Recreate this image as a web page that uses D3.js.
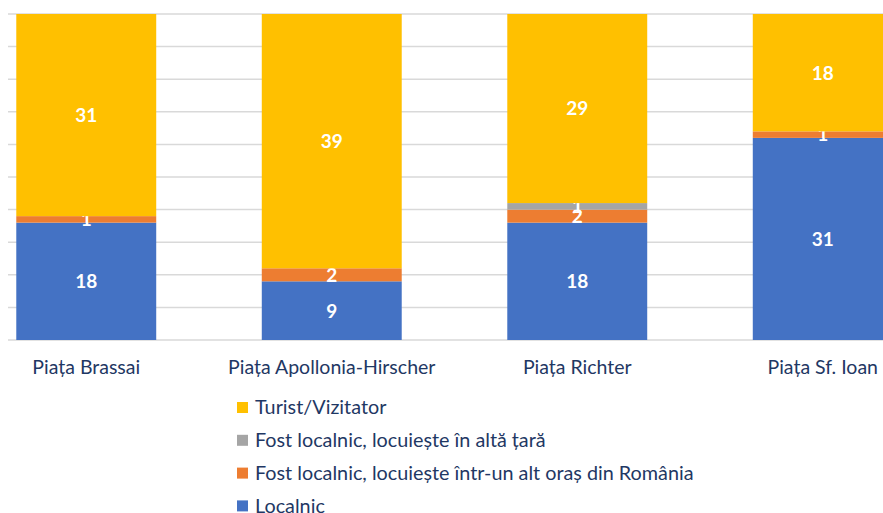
<!DOCTYPE html>
<html>
<head>
<meta charset="utf-8">
<script src="https://cdn.jsdelivr.net/npm/d3@7"></script>
<style>
  body { margin: 0; background: #fff; }
  svg { display: block; font-family: Lato, "Open Sans", sans-serif; }
</style>
</head>
<body>
<div id="chart"></div>
<script>
const categories = ["Piața Brassai", "Piața Apollonia-Hirscher", "Piața Richter", "Piața Sf. Ioan"];
const localnic = [18, 9, 18, 31];
const fostOras = [1, 2, 2, 1];
const fostTara = [0, 0, 1, 0];
const turist = [31, 39, 29, 18];
const yTicks = [0, 5, 10, 15, 20, 25, 30, 35, 40, 45, 50];

const series = [
  { key: "Localnic", values: localnic, color: "#4472C4" },
  { key: "Fost localnic, locuiește într-un alt oraș din România", values: fostOras, color: "#ED7D31" },
  { key: "Fost localnic, locuiește în altă țară", values: fostTara, color: "#A5A5A5" },
  { key: "Turist/Vizitator", values: turist, color: "#FFC000" }
];

const W = 883, H = 513;
const svg = d3.select("#chart").append("svg")
  .attr("width", W)
  .attr("height", H);

// plot area is wider than the window, so left/right are cut off like the source
const x = d3.scaleBand()
  .domain(categories)
  .range([-36.5, 945.5])
  .paddingInner(0.43)
  .paddingOuter(0.215);

const y = d3.scaleLinear()
  .domain([0, 50])
  .range([340, 14]);

// gridlines
svg.append("g")
  .selectAll("line")
  .data(yTicks)
  .join("line")
  .attr("x1", 8)
  .attr("x2", W)
  .attr("y1", d => y(d))
  .attr("y2", d => y(d))
  .attr("stroke", "#D9D9D9")
  .attr("stroke-width", 1.5);

// stack
const rows = categories.map((c, i) => {
  const r = { cat: c };
  series.forEach(s => r[s.key] = s.values[i]);
  return r;
});
const stacked = d3.stack().keys(series.map(s => s.key))(rows);

const layers = svg.append("g")
  .selectAll("g")
  .data(stacked)
  .join("g")
  .attr("fill", (d, i) => series[i].color);

layers.selectAll("rect")
  .data(d => d)
  .join("rect")
  .attr("x", d => x(d.data.cat))
  .attr("y", d => y(d[1]))
  .attr("width", x.bandwidth())
  .attr("height", d => y(d[0]) - y(d[1]));

// values
layers.selectAll("text")
  .data(d => d.filter(v => v[1] - v[0] > 0))
  .join("text")
  .attr("x", d => x(d.data.cat) + x.bandwidth() / 2)
  .attr("y", d => (y(d[0]) + y(d[1])) / 2)
  .attr("dy", "0.36em")
  .attr("text-anchor", "middle")
  .attr("fill", "#fff")
  .attr("font-weight", "bold")
  .attr("font-size", 19)
  .text(d => d[1] - d[0]);

// category axis
const xAxis = d3.axisBottom(x).tickSize(0).tickPadding(20);
const xAxisEl = svg.append("g")
  .attr("transform", "translate(0,340)")
  .call(xAxis);
xAxisEl.select(".domain").remove();
xAxisEl.selectAll("text")
  .attr("font-family", "Lato, sans-serif")
  .attr("font-size", 19.5)
  .attr("fill", "#1F3864");

// legend, top to bottom in reverse stack order
const legend = svg.append("g")
  .selectAll("g")
  .data(series.slice().reverse())
  .join("g")
  .attr("transform", (d, i) => `translate(237,${407 + i * 32.8})`);
legend.append("rect")
  .attr("y", -5)
  .attr("width", 11)
  .attr("height", 11)
  .attr("fill", d => d.color);
legend.append("text")
  .attr("x", 18)
  .attr("dy", "0.36em")
  .attr("font-size", 19.8)
  .attr("fill", "#1F3864")
  .text(d => d.key);
</script>
</body>
</html>
